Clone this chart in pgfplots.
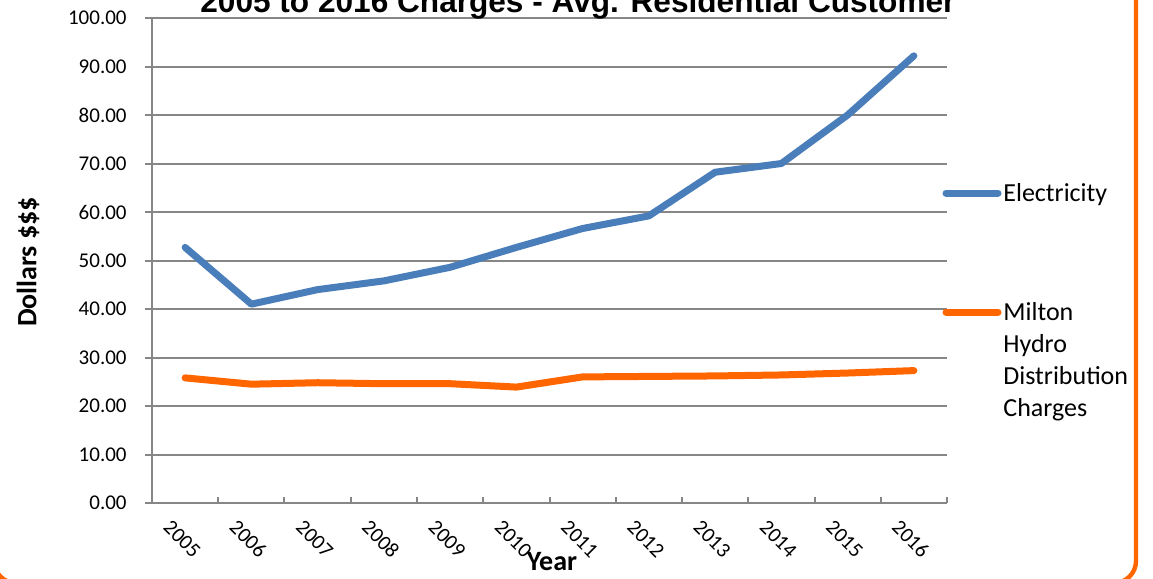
\documentclass[border=0pt]{standalone}
\usepackage{fontspec}
\setmainfont{Carlito}
\newfontfamily\titlefont{Liberation Sans}
\usepackage{pgfplots}
\pgfplotsset{compat=1.18}
\definecolor{elec}{HTML}{4A7EBB}
\definecolor{mhdc}{HTML}{FF6600}
\definecolor{gridgray}{HTML}{868686}
\begin{document}
\begin{tikzpicture}
\clip (0pt,0pt) rectangle (576.5pt,-289.5pt);
\fill[white] (0pt,0pt) rectangle (576.5pt,-289.5pt);
\begin{axis}[
  at={(76pt,-251.5pt)}, anchor=south west,
  scale only axis, width=397.5pt, height=242.5pt,
  xmin=-0.5, xmax=11.5, ymin=0, ymax=100,
  xtick={0,...,11},
  xticklabels={2005,2006,2007,2008,2009,2010,2011,2012,2013,2014,2015,2016},
  minor xtick={0.5,1.5,...,11.5},
  ytick={0,10,...,100},
  yticklabel={\pgfmathprintnumber[fixed,fixed zerofill,precision=2]{\tick}},
  /pgf/number format/assume math mode=true,
  ymajorgrids, grid style={gridgray, line width=1pt},
  axis x line*=bottom, axis y line*=left,
  axis line style={gridgray, line width=1pt, -},
  tick align=outside,
  major tick length=3.5pt, minor tick length=3pt,
  major x tick style={draw=none},
  minor x tick style={gridgray, line width=1pt, yshift=3pt},
  major y tick style={gridgray, line width=1pt},
  yticklabel style={font=\fontsize{10.5}{12}\selectfont, anchor=east, inner sep=0pt, xshift=-9pt},
  xticklabel style={font=\fontsize{10.5}{12}\selectfont, inner sep=0pt, yshift=-14.5pt, xshift=-1.5pt, rotate=-45, anchor=center},
  clip=false,
]
\addplot[elec, line width=3.5pt, line cap=round, line join=round] coordinates {
 (0,52.7) (1,41.0) (2,44.0) (3,45.8) (4,48.6) (5,52.7) (6,56.6) (7,59.2) (8,68.2) (9,70.0) (10,80.0) (11,92.2)};
\addplot[mhdc, line width=3.5pt, line cap=round, line join=round] coordinates {
 (0,25.8) (1,24.5) (2,24.8) (3,24.6) (4,24.6) (5,23.9) (6,26.0) (7,26.1) (8,26.2) (9,26.4) (10,26.8) (11,27.3)};
\end{axis}
\begin{scope}[x=0.5pt,y=-0.5pt]
  \node[font=\titlefont\bfseries\fontsize{15.8}{18}\selectfont, anchor=base, inner sep=0pt] at (578,12) {2005 to 2016 Charges - Avg. Residential Customer};
  \node[font=\bfseries\fontsize{14}{16}\selectfont, rotate=90, anchor=center, inner sep=0pt] at (28,262) {Dollars \$\$\$};
  \node[font=\bfseries\fontsize{14}{16}\selectfont, anchor=base, inner sep=0pt] at (552,570) {Year};
  \draw[elec, line width=3.5pt, line cap=round] (946,193) -- (998,193);
  \draw[mhdc, line width=3.5pt, line cap=round] (946,312) -- (998,312);
  \begin{scope}[every node/.style={font=\fontsize{13}{16}\selectfont, anchor=base west, inner sep=0pt}]
  \node at (1003,201.5) {Electricity};
  \node at (1003,320) {Milton};
  \node at (1003,352) {Hydro};
  \node at (1003,384) {Distribution};
  \node at (1003,416) {Charges};
  \end{scope}
  \draw[mhdc, line width=2.2pt, rounded corners=11pt] (-6,583) rectangle (1136,-60);
\end{scope}
\end{tikzpicture}
\end{document}
